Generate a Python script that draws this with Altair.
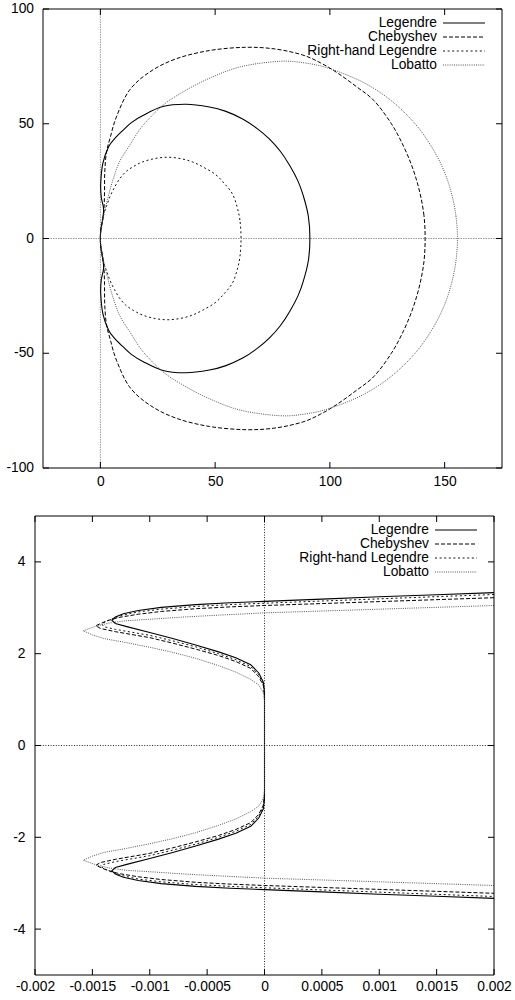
import altair as alt
import pandas as pd

SERIES = ["Legendre", "Chebyshev", "Right-hand Legendre", "Lobatto"]

# ---------------- top panel: closed curves (x, y) ----------------
TOP_LEG_X = [91.3, 90.6, 88.4, 86.1, 82.5, 78.4, 73.6, 68.2, 62.0, 54.4, 47.5, 37.4, 27.2, 18.5, 13.5, 9.7, 6.2, 3.6, 1.1, 0.15, 0.4, 1.4, 1.0, 0.2, 0.0,
             0.2, 1.0, 1.4, 0.4, 0.15, 1.1, 3.6, 6.2, 9.7, 13.5, 18.5, 27.2, 37.4, 47.5, 54.4, 62.0, 68.2, 73.6, 78.4, 82.5, 86.1, 88.4, 90.6]
TOP_LEG_Y = [0.0, 9.8, 18.7, 25.0, 31.8, 38.0, 43.4, 48.0, 52.1, 55.5, 57.3, 58.5, 57.5, 53.6, 50.5, 47.0, 43.5, 40.0, 32.8, 24.0, 18.0, 13.0, 8.5, 3.8, 0.0,
             -3.8, -8.5, -13.0, -18.0, -24.0, -32.8, -40.0, -43.5, -47.0, -50.5, -53.6, -57.5, -58.5, -57.3, -55.5, -52.1, -48.0, -43.4, -38.0, -31.8, -25.0, -18.7, -9.8]

TOP_CHE_X = [141.5, 141.0, 139.2, 136.3, 132.2, 126.8, 119.3, 111.8, 103.5, 96.0, 88.0, 76.0, 63.0, 47.5, 33.0, 21.4, 12.6, 7.0, 4.3, 2.6, 1.9, 1.8, 1.6, 1.1, 0.2, 0.0,
             0.2, 1.1, 1.6, 1.8, 1.9, 2.6, 4.3, 7.0, 12.6, 21.4, 33.0, 47.5, 63.0, 76.0, 88.0, 96.0, 103.5, 111.8, 119.3, 126.8, 132.2, 136.3, 139.2, 141.0]
TOP_CHE_Y = [0.0, 10.0, 20.0, 30.0, 40.0, 50.0, 60.0, 66.0, 72.0, 76.5, 80.0, 82.6, 83.3, 81.9, 78.3, 72.5, 64.5, 53.0, 44.0, 37.2, 28.5, 20.0, 13.5, 8.5, 3.8, 0.0,
             -3.8, -8.5, -13.5, -20.0, -28.5, -37.2, -44.0, -53.0, -64.5, -72.5, -78.3, -81.9, -83.3, -82.6, -80.0, -76.5, -72.0, -66.0, -60.0, -50.0, -40.0, -30.0, -20.0, -10.0]

TOP_RHL_X = [61.3, 60.8, 59.5, 57.5, 54.0, 50.0, 45.0, 40.3, 35.0, 29.5, 24.0, 18.5, 14.5, 11.0, 8.2, 6.0, 4.3, 3.0, 1.1, 0.2, 0.0,
             0.2, 1.1, 3.0, 4.3, 6.0, 8.2, 11.0, 14.5, 18.5, 24.0, 29.5, 35.0, 40.3, 45.0, 50.0, 54.0, 57.5, 59.5, 60.8]
TOP_RHL_Y = [0.0, 8.0, 14.0, 19.5, 24.0, 28.0, 31.0, 33.3, 34.8, 35.4, 34.9, 33.4, 31.4, 29.0, 25.7, 22.0, 18.5, 15.0, 9.3, 3.8, 0.0,
             -3.8, -9.3, -15.0, -18.5, -22.0, -25.7, -29.0, -31.4, -33.4, -34.9, -35.4, -34.8, -33.3, -31.0, -28.0, -24.0, -19.5, -14.0, -8.0]

TOP_LOB_X = [155.6, 154.9, 152.9, 149.5, 144.3, 137.1, 126.8, 114.6, 100.0, 89.0, 78.0, 61.0, 47.0, 35.9, 27.2, 18.5, 12.7, 8.3, 5.3, 3.1, 1.4, 0.4, 0.0,
             0.4, 1.4, 3.1, 5.3, 8.3, 12.7, 18.5, 27.2, 35.9, 47.0, 61.0, 78.0, 89.0, 100.0, 114.6, 126.8, 137.1, 144.3, 149.5, 152.9, 154.9]
TOP_LOB_Y = [0.0, 10.0, 20.0, 30.0, 40.0, 50.0, 60.0, 68.0, 74.0, 76.5, 77.2, 74.8, 69.6, 63.8, 58.0, 49.2, 40.5, 33.3, 25.0, 16.9, 9.6, 3.8, 0.0,
             -3.8, -9.6, -16.9, -25.0, -33.3, -40.5, -49.2, -58.0, -63.8, -69.6, -74.8, -77.2, -76.5, -74.0, -68.0, -60.0, -50.0, -40.0, -30.0, -20.0, -10.0]

# ---------------- bottom panel: zoom near the origin ----------------
BOT_LEG_X = [0.002, 0.0015, 0.001, 0.0005, 0.0, -0.0003, -0.0006, -0.0009, -0.0011, -0.00123, -0.0013, -0.00133, -0.0013, -0.0012,
             -0.001, -0.0008, -0.0006, -0.0004, -0.00025, -0.00012, -0.00005, -0.00001, 0.0,
             0.0, -0.00001, -0.00005, -0.00012, -0.00025, -0.0004, -0.0006, -0.0008, -0.001,
             -0.0012, -0.0013, -0.00133, -0.0013, -0.00123, -0.0011, -0.0009, -0.0006, -0.0003, 0.0, 0.0005, 0.001, 0.0015, 0.002]
BOT_LEG_Y = [3.33, 3.285, 3.24, 3.19, 3.14, 3.11, 3.07, 3.01, 2.94, 2.87, 2.80, 2.73, 2.66, 2.59,
             2.46, 2.33, 2.19, 2.04, 1.91, 1.76, 1.58, 1.38, 1.15,
             -1.15, -1.38, -1.58, -1.76, -1.91, -2.04, -2.19, -2.33, -2.46,
             -2.59, -2.66, -2.73, -2.80, -2.87, -2.94, -3.01, -3.07, -3.11, -3.14, -3.19, -3.24, -3.285, -3.33]

BOT_CHE_X = [0.002, 0.001, 0.0, -0.0003, -0.0006, -0.0009, -0.0011, -0.00127, -0.00138, -0.00147, -0.00143, -0.0013,
             -0.001, -0.0008, -0.0006, -0.0004, -0.00025, -0.00012, -0.00005, -0.00001, 0.0,
             0.0, -0.00001, -0.00005, -0.00012, -0.00025, -0.0004, -0.0006, -0.0008, -0.001,
             -0.0013, -0.00143, -0.00147, -0.00138, -0.00127, -0.0011, -0.0009, -0.0006, -0.0003, 0.0, 0.001, 0.002]
BOT_CHE_Y = [3.22, 3.135, 3.05, 3.02, 2.98, 2.92, 2.86, 2.79, 2.71, 2.61, 2.55, 2.48,
             2.35, 2.23, 2.10, 1.96, 1.83, 1.68, 1.50, 1.30, 1.08,
             -1.08, -1.30, -1.50, -1.68, -1.83, -1.96, -2.10, -2.23, -2.35,
             -2.48, -2.55, -2.61, -2.71, -2.79, -2.86, -2.92, -2.98, -3.02, -3.05, -3.135, -3.22]

BOT_RHL_X = [0.002, 0.001, 0.0, -0.0003, -0.0006, -0.0009, -0.0011, -0.00125, -0.00135, -0.00142, -0.0014, -0.0013,
             -0.001, -0.0008, -0.0006, -0.0004, -0.00025, -0.00012, -0.00005, -0.00001, 0.0,
             0.0, -0.00001, -0.00005, -0.00012, -0.00025, -0.0004, -0.0006, -0.0008, -0.001,
             -0.0013, -0.0014, -0.00142, -0.00135, -0.00125, -0.0011, -0.0009, -0.0006, -0.0003, 0.0, 0.001, 0.002]
BOT_RHL_Y = [3.29, 3.195, 3.10, 3.07, 3.03, 2.97, 2.91, 2.83, 2.74, 2.65, 2.59, 2.53,
             2.40, 2.28, 2.15, 2.00, 1.87, 1.72, 1.54, 1.34, 1.12,
             -1.12, -1.34, -1.54, -1.72, -1.87, -2.00, -2.15, -2.28, -2.40,
             -2.53, -2.59, -2.65, -2.74, -2.83, -2.91, -2.97, -3.03, -3.07, -3.10, -3.195, -3.29]

BOT_LOB_X = [0.002, 0.001, 0.0, -0.0004, -0.0007, -0.001, -0.0012, -0.00135, -0.00148, -0.00158, -0.0015, -0.0014, -0.0012,
             -0.001, -0.0008, -0.0006, -0.0004, -0.00025, -0.00012, -0.00005, -0.00001, 0.0,
             0.0, -0.00001, -0.00005, -0.00012, -0.00025, -0.0004, -0.0006, -0.0008, -0.001,
             -0.0012, -0.0014, -0.0015, -0.00158, -0.00148, -0.00135, -0.0012, -0.001, -0.0007, -0.0004, 0.0, 0.001, 0.002]
BOT_LOB_Y = [3.05, 2.97, 2.89, 2.84, 2.80, 2.75, 2.72, 2.67, 2.59, 2.50, 2.41, 2.33, 2.24,
             2.14, 2.03, 1.90, 1.74, 1.60, 1.44, 1.32, 1.15, 0.97,
             -0.97, -1.15, -1.32, -1.44, -1.60, -1.74, -1.90, -2.03, -2.14,
             -2.24, -2.33, -2.41, -2.50, -2.59, -2.67, -2.72, -2.75, -2.80, -2.84, -2.89, -2.97, -3.05]

TOP_X_TICKS = [0, 50, 100, 150]
TOP_Y_TICKS = [-100, -50, 0, 50, 100]
TOP_Y_LABELS = ["-100", "-50", "0", "50", "100"]
BOT_X_TICKS = [-0.002, -0.0015, -0.001, -0.0005, 0, 0.0005, 0.001, 0.0015, 0.002]
BOT_Y_TICKS = [-4, -2, 0, 2, 4]

TOP_CURVES = {
    "Legendre": (TOP_LEG_X, TOP_LEG_Y),
    "Chebyshev": (TOP_CHE_X, TOP_CHE_Y),
    "Right-hand Legendre": (TOP_RHL_X, TOP_RHL_Y),
    "Lobatto": (TOP_LOB_X, TOP_LOB_Y),
}
BOT_CURVES = {
    "Legendre": (BOT_LEG_X, BOT_LEG_Y),
    "Chebyshev": (BOT_CHE_X, BOT_CHE_Y),
    "Right-hand Legendre": (BOT_RHL_X, BOT_RHL_Y),
    "Lobatto": (BOT_LOB_X, BOT_LOB_Y),
}

STYLE = {
    "Legendre": {"color": "#000000", "strokeWidth": 1.1},
    "Chebyshev": {"color": "#000000", "strokeWidth": 1.0, "strokeDash": [4, 2]},
    "Right-hand Legendre": {"color": "#111111", "strokeWidth": 1.0, "strokeDash": [2, 2.6]},
    "Lobatto": {"color": "#555555", "strokeWidth": 1.0, "strokeDash": [1, 1.2]},
}

FONT = "Liberation Sans"
FS = 13.8
W = 459
H = 459


def panel(curves, xdom, ydom, xticks, yticks, interp, off, xext, xlabpad,
          ylabpad, zero_color, zero_dash, ylabels=None, yext=32):
    xscale = alt.Scale(domain=xdom, nice=False, zero=False, range=[off, off + W])
    yscale = alt.Scale(domain=ydom, nice=False, zero=False)
    xaxis = alt.Axis(values=xticks, ticks=False, tickSize=0, domain=False, grid=False,
                     title=None, labelPadding=xlabpad, labelExpr="'' + datum.value",
                     minExtent=xext, maxExtent=xext, labelFlush=False, labelOverlap=False,
                     labelFont=FONT, labelFontSize=FS, labelColor="black")
    if ylabels is None:
        yaxis = alt.Axis(values=yticks, ticks=False, tickSize=0, domain=False, grid=False,
                         title=None, labelPadding=ylabpad, labelExpr="'' + datum.value",
                         minExtent=yext, maxExtent=yext, labelFlush=False, labelOverlap=False,
                         labelFont=FONT, labelFontSize=FS, labelColor="black")
    else:
        yaxis = None

    def X(f):
        return alt.X(f, type="quantitative", scale=xscale, axis=xaxis)

    def Y(f):
        return alt.Y(f, type="quantitative", scale=yscale, axis=yaxis)

    def XD(v):
        return alt.datum(v, scale=xscale, axis=xaxis)

    def YD(v):
        return alt.datum(v, scale=yscale, axis=yaxis)

    one = pd.DataFrame({"k": [0]})
    layers = []
    # zero axes
    layers.append(alt.Chart(one).mark_rule(color=zero_color, strokeWidth=1, strokeDash=zero_dash)
                  .encode(x=XD(0), y=YD(ydom[0]), y2=alt.datum(ydom[1])))
    layers.append(alt.Chart(one).mark_rule(color=zero_color, strokeWidth=1, strokeDash=zero_dash)
                  .encode(y=YD(0), x=XD(xdom[0]), x2=alt.datum(xdom[1])))
    # curves
    for name in SERIES:
        xs, ys = curves[name]
        df = pd.DataFrame({"x": xs, "y": ys, "i": list(range(len(xs)))})
        st = STYLE[name]
        kw = dict(color=st["color"], strokeWidth=st["strokeWidth"], interpolate=interp, clip=True)
        if "strokeDash" in st:
            kw["strokeDash"] = st["strokeDash"]
        layers.append(alt.Chart(df).mark_line(**kw).encode(x=X("x"), y=Y("y"), order="i:Q"))
    # frame
    layers.append(alt.Chart(one).mark_rect(filled=False, stroke="black", strokeWidth=1)
                  .encode(x=XD(xdom[0]), x2=alt.datum(xdom[1]), y=YD(ydom[0]), y2=alt.datum(ydom[1])))
    # inward ticks on all four sides
    xt = pd.DataFrame({"x": xticks})
    yt = pd.DataFrame({"y": yticks})
    layers.append(alt.Chart(xt).mark_rule(color="black", strokeWidth=1)
                  .encode(x=X("x"), y=alt.value(H), y2=alt.value(H - 6)))
    layers.append(alt.Chart(xt).mark_rule(color="black", strokeWidth=1)
                  .encode(x=X("x"), y=alt.value(0), y2=alt.value(6)))
    layers.append(alt.Chart(yt).mark_rule(color="black", strokeWidth=1)
                  .encode(y=Y("y"), x=alt.value(off), x2=alt.value(off + 6)))
    layers.append(alt.Chart(yt).mark_rule(color="black", strokeWidth=1)
                  .encode(y=Y("y"), x=alt.value(off + W), x2=alt.value(off + W - 6)))
    # y labels drawn as text (top panel)
    if ylabels is not None:
        yl = pd.DataFrame({"y": yticks, "t": ylabels})
        layers.append(alt.Chart(yl).mark_text(align="right", baseline="middle", font=FONT,
                                              fontSize=FS, color="black")
                      .encode(y=Y("y"), x=alt.value(off - ylabpad), text="t:N"))
    # key (inside, top right)
    for k, name in enumerate(SERIES):
        yy = 14 + 14 * k
        st = STYLE[name]
        layers.append(alt.Chart(pd.DataFrame({"t": [name]})).mark_text(
            align="right", baseline="middle", font=FONT, fontSize=FS, color="black")
            .encode(text="t:N", x=alt.value(off + W - 65), y=alt.value(yy)))
        kw = dict(color=st["color"], strokeWidth=st["strokeWidth"])
        if "strokeDash" in st:
            kw["strokeDash"] = st["strokeDash"]
        layers.append(alt.Chart(one).mark_rule(**kw)
                      .encode(x=alt.value(off + W - 59), x2=alt.value(off + W - 17), y=alt.value(yy)))
    return alt.layer(*layers).properties(width=W + off, height=H)


top = panel(TOP_CURVES, [-25, 175], [-100, 100], TOP_X_TICKS, TOP_Y_TICKS, "cardinal-closed",
            off=8, xext=22, xlabpad=6, ylabpad=9, zero_color="#9a9a9a", zero_dash=[1.5, 1],
            ylabels=TOP_Y_LABELS)
bottom = panel(BOT_CURVES, [-0.002, 0.002], [-5, 5], BOT_X_TICKS, BOT_Y_TICKS, "linear",
               off=0, xext=20, xlabpad=4, ylabpad=10, zero_color="#222222", zero_dash=[1, 1.6],
               yext=32)

chart = alt.concat(top, bottom, columns=1, spacing=25).properties(
    padding={"left": 3, "top": 2, "right": 0, "bottom": 0},
    background="white",
).configure_view(strokeWidth=0, stroke="transparent")

chart.save("out.html", embed_options={"renderer": "svg", "actions": False})
